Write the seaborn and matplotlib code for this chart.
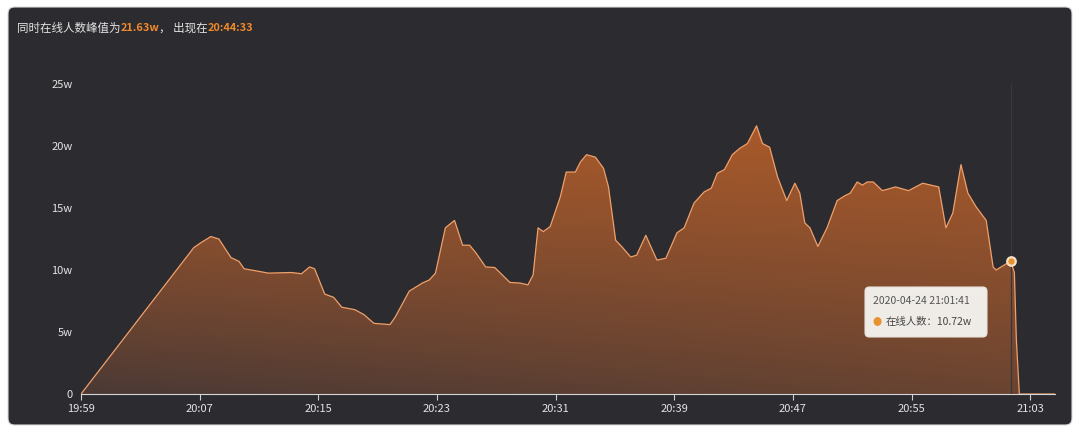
'''
Online users curve (同时在线人数), dark card style
'''

import pandas as pd
import numpy as np
import matplotlib.pyplot as plt
import matplotlib.dates as mdates
from matplotlib.colors import to_rgb
from matplotlib.patches import FancyBboxPatch
import seaborn as sns

# --------------------------------------------------
# Data (values in w = 万)
# --------------------------------------------------

day = '2020-04-24'

times = [
    '19:59:00', '20:06:36', '20:07:05', '20:07:45', '20:08:18', '20:08:47', '20:09:07', '20:09:39',
    '20:10:00', '20:10:57', '20:11:38', '20:13:11', '20:13:52', '20:14:25', '20:14:45', '20:15:26',
    '20:16:02', '20:16:35', '20:17:28', '20:18:05', '20:18:45', '20:19:50', '20:20:11', '20:21:08',
    '20:22:01', '20:22:29', '20:22:54', '20:23:34', '20:24:11', '20:24:44', '20:25:12', '20:25:37',
    '20:26:17', '20:26:54', '20:27:55', '20:28:36', '20:29:08', '20:29:29', '20:29:49', '20:30:10',
    '20:30:38', '20:31:19', '20:31:43', '20:32:20', '20:32:40', '20:33:05', '20:33:41', '20:34:14',
    '20:34:34', '20:35:03', '20:35:27', '20:36:04', '20:36:28', '20:37:05', '20:37:25', '20:37:50',
    '20:38:26', '20:39:11', '20:39:40', '20:40:20', '20:41:01', '20:41:30', '20:41:54', '20:42:23',
    '20:42:55', '20:43:24', '20:43:56', '20:44:33', '20:44:57', '20:45:26', '20:45:58', '20:46:35',
    '20:47:08', '20:47:28', '20:47:48', '20:48:09', '20:48:41', '20:49:18', '20:49:59', '20:50:31',
    '20:50:52', '20:51:20', '20:51:41', '20:52:01', '20:52:25', '20:53:02', '20:53:55', '20:54:48',
    '20:55:45', '20:56:50', '20:57:19', '20:57:47', '20:58:20', '20:58:48', '20:59:21', '21:00:02',
    '21:00:30', '21:00:42', '21:01:41', '21:01:56', '21:02:04', '21:02:16', '21:04:40',
]

online = [
    0.0, 11.8, 12.2, 12.7, 12.5, 11.6, 11.0, 10.7,
    10.1, 9.9, 9.75, 9.8, 9.7, 10.25, 10.1, 8.06,
    7.8, 7.0, 6.8, 6.4, 5.7, 5.6, 6.2, 8.3,
    8.95, 9.2, 9.75, 13.4, 14.0, 12.0, 12.0, 11.4,
    10.25, 10.2, 9.0, 8.95, 8.8, 9.6, 13.4, 13.1,
    13.5, 15.9, 17.9, 17.9, 18.7, 19.3, 19.1, 18.2,
    16.7, 12.4, 11.9, 11.05, 11.2, 12.8, 11.9, 10.8,
    10.95, 13.0, 13.4, 15.4, 16.3, 16.6, 17.8, 18.1,
    19.3, 19.8, 20.2, 21.63, 20.2, 19.9, 17.5, 15.6,
    17.0, 16.2, 13.8, 13.4, 11.9, 13.4, 15.6, 16.0,
    16.2, 17.1, 16.85, 17.1, 17.1, 16.4, 16.7, 16.4,
    17.0, 16.7, 13.4, 14.6, 18.5, 16.2, 15.1, 14.0,
    10.25, 10.0, 10.72, 9.8, 4.4, 0.0, 0.0,
]

peak_value = '21.63w'
peak_time = '20:44:33'
tip_time = '21:01:41'
tip_value = '10.72w'

x_tick_labels = ['19:59', '20:07', '20:15', '20:23', '20:31', '20:39', '20:47', '20:55', '21:03']
y_ticks = [0, 5, 10, 15, 20, 25]
y_tick_labels = ['0', '5w', '10w', '15w', '20w', '25w']

# --------------------------------------------------
# Style
# --------------------------------------------------

bg = '#2c2b30'
txt = '#e4e4e4'
orange = '#f08a2c'
line_c = '#f0a06a'

sns.set_theme(style='dark')
plt.rcParams['font.family'] = ['Noto Sans CJK SC', 'DejaVu Sans']

df = pd.DataFrame({'time': pd.to_datetime(day + ' ' + pd.Series(times)), 'online': online})
xnum = mdates.date2num(df.time)

fig = plt.figure(figsize=(10.8, 4.33), dpi=100)
fig.patch.set_facecolor('white')

# dark card behind everything
card = FancyBboxPatch((8 / 1080, 8 / 433), 1064 / 1080, 418 / 433,
                      boxstyle='round,pad=0,rounding_size=0.006', mutation_aspect=2.5,
                      transform=fig.transFigure, facecolor=bg, edgecolor='#dcdcdc',
                      lw=0.8, zorder=-5)
fig.add_artist(card)

ax = fig.add_axes([0.075, 0.090, 0.902, 0.716])
ax.set_facecolor('none')

x0 = mdates.date2num(pd.Timestamp(day + ' 19:59:00'))
x1 = mdates.date2num(pd.Timestamp(day + ' 21:04:41'))

# gradient fill under the curve: dark brown at the bottom (warmer to the right), orange at the top
bot_left = np.array(to_rgb('#4a3935'))
bot_right = np.array(to_rgb('#6a4431'))
top_c = np.array(to_rgb('#aa5a2a'))
hx = np.linspace(0, 1, 200)[None, :, None]
vy = np.linspace(0, 1, 200)[:, None, None]
bottom = bot_left + (bot_right - bot_left) * hx
rgb = bottom + (top_c - bottom) * vy ** 0.9
im = ax.imshow(rgb, extent=[x0, x1, 0, 22], origin='lower', aspect='auto', zorder=1)
poly = ax.fill_between(xnum, 0, df.online, facecolor='none', edgecolor='none')
im.set_clip_path(poly.get_paths()[0], transform=ax.transData)

sns.lineplot(x=xnum, y=df.online, ax=ax, color=line_c, lw=0.9, zorder=3)

# cursor line + highlighted point
tip_x = mdates.date2num(pd.Timestamp(day + ' ' + tip_time))
ax.axvline(tip_x, color='#38373d', lw=0.9, zorder=2)
ax.scatter([tip_x], [online[times.index(tip_time)]], s=38, facecolor='#e8912f',
           edgecolor='#f5e1c6', linewidths=1.6, zorder=5)

ax.set_xlim(x0, x1)
ax.set_ylim(0, 25)
tick_pos = [mdates.date2num(pd.Timestamp(day + ' ' + t)) for t in x_tick_labels]
ax.set_xticks(tick_pos)
ax.set_xticklabels(x_tick_labels)
ax.set_yticks(y_ticks)
ax.set_yticklabels(y_tick_labels)
ax.set_xlabel('')
ax.set_ylabel('')
ax.grid(False)
ax.tick_params(axis='x', colors='#cfcfcf', labelcolor=txt, labelsize=8, length=4, width=0.8, pad=3, bottom=True)
ax.tick_params(axis='y', labelcolor=txt, labelsize=8, length=0, pad=6)
for s in ('top', 'right', 'left'):
    ax.spines[s].set_visible(False)
ax.spines['bottom'].set_color('#d6d6d6')
ax.spines['bottom'].set_linewidth(0.8)
ax.spines['bottom'].set_zorder(4)

# title pieces
t1 = fig.text(17 / 1080, 405 / 433, '同时在线人数峰值为', color=txt, fontsize=8.3, va='center')
t2 = ax.annotate(peak_value, xy=(1, 0.5), xycoords=t1, va='center', color=orange,
                 fontsize=7.9, fontweight='bold', annotation_clip=False)
t3 = ax.annotate('， 出现在', xy=(1, 0.5), xycoords=t2, va='center', color=txt,
                 fontsize=8.3, annotation_clip=False)
ax.annotate(peak_time, xy=(1, 0.5), xycoords=t3, va='center', color=orange,
            fontsize=7.9, fontweight='bold', annotation_clip=False)

# tooltip
tip = FancyBboxPatch((865 / 1080, 96 / 433), 122 / 1080, 50 / 433,
                     boxstyle='round,pad=0,rounding_size=0.004', mutation_aspect=2.5,
                     transform=fig.transFigure, facecolor='#f4f2ef', edgecolor='#e8e2dc',
                     lw=0.8, alpha=0.97, zorder=6)
fig.add_artist(tip)
fig.text(873 / 1080, 132 / 433, day + ' ' + tip_time, color='#555555', fontsize=7.5,
         va='center', zorder=7)
fig.text(877 / 1080, 111 / 433, '●', color='#e8912f', fontsize=6.5, va='center',
         ha='center', zorder=7)
fig.text(886 / 1080, 111 / 433, '在线人数：' + tip_value, color='#444444', fontsize=7.5,
         va='center', zorder=7)

fig.savefig('out.png', dpi=100, facecolor=fig.get_facecolor())
